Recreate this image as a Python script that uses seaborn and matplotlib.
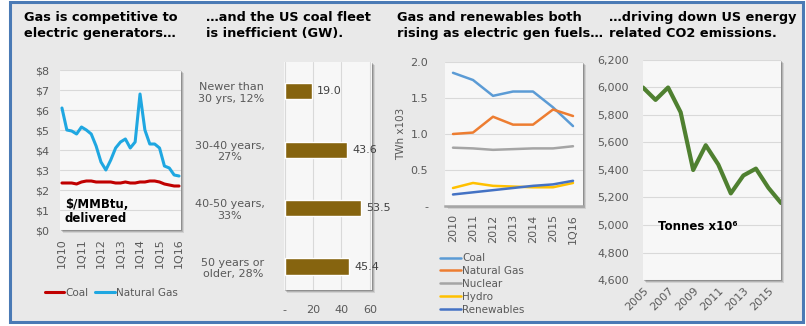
import matplotlib
matplotlib.use("Agg")
import matplotlib.pyplot as plt
from matplotlib.patches import Rectangle
from matplotlib.lines import Line2D
import numpy as np
import pandas as pd
import seaborn as sns

# ---- data -------------------------------------------------------------
# Delivered fuel prices to electric generators, $/MMBtu, 1Q10 .. 1Q16
quarter_ticks = ["1Q10", "1Q11", "1Q12", "1Q13", "1Q14", "1Q15", "1Q16"]
gas_price = [6.1, 5.0, 4.95, 4.8, 5.15, 5.0, 4.8, 4.2, 3.4, 3.0, 3.5, 4.1, 4.4,
             4.55, 4.1, 4.4, 6.8, 5.0, 4.3, 4.3, 4.1, 3.2, 3.1, 2.75, 2.7]
coal_price = [2.35, 2.35, 2.35, 2.3, 2.4, 2.45, 2.45, 2.4, 2.4, 2.4, 2.4, 2.35, 2.35,
              2.4, 2.35, 2.35, 2.4, 2.4, 2.45, 2.45, 2.4, 2.3, 2.25, 2.2, 2.2]

# US coal fleet capacity by plant age, GW
age_groups = ["Newer than\n30 yrs, 12%", "30-40 years,\n27%",
              "40-50 years,\n33%", "50 years or\nolder, 28%"]
capacity_gw = [19.0, 43.6, 53.5, 45.4]

# Electric generation by fuel, TWh x 10^3
gen_periods = ["2010", "2011", "2012", "2013", "2014", "2015", "1Q16"]
coal_gen = [1.85, 1.75, 1.53, 1.59, 1.59, 1.37, 1.11]
gas_gen = [1.00, 1.02, 1.24, 1.13, 1.13, 1.34, 1.25]
nuclear_gen = [0.81, 0.80, 0.78, 0.79, 0.80, 0.80, 0.83]
hydro_gen = [0.25, 0.32, 0.28, 0.27, 0.26, 0.26, 0.32]
renew_gen = [0.16, 0.19, 0.22, 0.25, 0.28, 0.30, 0.35]
fuel_names = ["Coal", "Natural Gas", "Nuclear", "Hydro", "Renewables"]

# Energy-related CO2 emissions, tonnes x 10^6
co2_years = list(range(2005, 2017))
co2_tonnes = [6000, 5910, 6000, 5820, 5400, 5580, 5440, 5230, 5360, 5410, 5270, 5160]

# ---- styling ----------------------------------------------------------
sns.set_style("white")
plt.rcParams["font.family"] = ["DejaVu Sans"]
TICK = "#595959"
GRID = "#d9d9d9"
PANEL_BG = "#f7f7f7"

W, H = 806, 326
fig = plt.figure(figsize=(W / 100, H / 100), dpi=100)
fig.patch.set_facecolor("white")


def rect(x0, y0, x1, y1):
    return [x0 / W, 1 - y1 / H, (x1 - x0) / W, (y1 - y0) / H]


def panel(x0, y0, x1, y1):
    # soft drop shadow behind each plotting area
    for i, a in enumerate([0.10, 0.14, 0.20]):
        off = 3 - i
        fig.patches.append(Rectangle(((x0 + off) / W, 1 - (y1 + off) / H),
                                     (x1 - x0) / W, (y1 - y0) / H,
                                     transform=fig.transFigure, color="black",
                                     alpha=a, lw=0, zorder=-1))
    ax = fig.add_axes(rect(x0, y0, x1, y1))
    ax.set_facecolor(PANEL_BG)
    for s in ax.spines.values():
        s.set_visible(False)
    ax.tick_params(colors=TICK, labelsize=7.5, length=0)
    return ax


# outer frame
fig.patches.append(Rectangle((9.5 / W, 1 - 321.5 / H), 793.5 / W, 319.5 / H,
                             transform=fig.transFigure, facecolor="#e9e9e9",
                             edgecolor="#4a7ab5", lw=2.2, zorder=-2))

title_kw = dict(fontsize=9.3, fontweight="bold", color="black", va="top",
                ha="left", linespacing=1.3)
fig.text(24 / W, 1 - 11 / H, "Gas is competitive to\nelectric generators\u2026", **title_kw)
fig.text(206 / W, 1 - 11 / H, "\u2026and the US coal fleet\nis inefficient (GW).", **title_kw)
fig.text(397 / W, 1 - 11 / H, "Gas and renewables both\nrising as electric gen fuels\u2026", **title_kw)
fig.text(609 / W, 1 - 11 / H, "\u2026driving down US energy\nrelated CO2 emissions.", **title_kw)

# ---- panel 1: fuel prices ---------------------------------------------
ax1 = panel(60, 70, 181, 230)
qidx = np.arange(len(gas_price))
df1 = pd.DataFrame({"q": np.concatenate([qidx, qidx]),
                    "price": coal_price + gas_price,
                    "fuel": ["Coal"] * len(qidx) + ["Natural Gas"] * len(qidx)})
sns.lineplot(data=df1, x="q", y="price", hue="fuel",
             palette={"Coal": "#c00000", "Natural Gas": "#1fa7e1"},
             linewidth=2.2, ax=ax1, legend=False)
ax1.set_xlim(-0.4, 24.4)
ax1.set_ylim(0, 8)
ax1.set_yticks(range(0, 9))
ax1.set_yticklabels([f"${v}" for v in range(0, 9)], fontsize=8)
ax1.set_xticks(range(0, 25, 4))
ax1.set_xticklabels(quarter_ticks, rotation=90, fontsize=8)
ax1.tick_params(axis="y", pad=8)
ax1.tick_params(axis="x", pad=6)
ax1.yaxis.grid(True, color=GRID, lw=0.8)
ax1.set_xlabel("")
ax1.set_ylabel("")
ax1.text(0.04, 0.03, "$/MMBtu,\ndelivered", transform=ax1.transAxes,
         fontsize=8.5, fontweight="bold", color="black", ha="left", va="bottom",
         linespacing=1.15)
fig.legend(handles=[Line2D([], [], color="#c00000", lw=2.2),
                    Line2D([], [], color="#1fa7e1", lw=2.2)],
           labels=["Coal", "Natural Gas"], ncol=2, frameon=False,
           loc="center", bbox_to_anchor=(111 / W, 1 - 293 / H),
           fontsize=7.5, labelcolor=TICK, handlelength=1.9, handletextpad=0.1,
           columnspacing=0.6)

# ---- panel 2: coal fleet age ------------------------------------------
ax2 = panel(284, 62, 372, 290)
sns.barplot(x=capacity_gw, y=age_groups, orient="h", color="#86640f",
            width=0.28, saturation=1, ax=ax2)
ax2.set_xlim(-0.5, 61.5)
ax2.set_ylim(3.4, -0.5)
ax2.set_xticks([0, 20, 40, 60])
ax2.set_xticklabels(["-", "20", "40", "60"], fontsize=8)
ax2.tick_params(axis="x", pad=11)
ax2.tick_params(axis="y", pad=14)
for lab in ax2.get_yticklabels():
    lab.set_multialignment("center")
    lab.set_fontsize(8)
ax2.xaxis.grid(True, color=GRID, lw=0.8)
for i, v in enumerate(capacity_gw):
    ax2.annotate(f"{v:.1f}", (v, i), xytext=(4, 0), textcoords="offset points",
                 va="center", ha="left", fontsize=8, color="#404040")

# ---- panel 3: generation by fuel --------------------------------------
ax3 = panel(445, 62, 583, 206)
pidx = np.arange(len(gen_periods))
gen_series = [coal_gen, gas_gen, nuclear_gen, hydro_gen, renew_gen]
fuel_colors = ["#5b9bd5", "#ed7d31", "#a5a5a5", "#ffc000", "#4472c4"]
df3 = pd.DataFrame({"p": np.tile(pidx, len(fuel_names)),
                    "twh": np.concatenate(gen_series),
                    "fuel": np.repeat(fuel_names, len(pidx))})
sns.lineplot(data=df3, x="p", y="twh", hue="fuel", hue_order=fuel_names,
             palette=dict(zip(fuel_names, fuel_colors)), linewidth=1.8,
             ax=ax3, legend=False)
ax3.set_xlim(-0.4, 6.5)
ax3.set_ylim(0, 2.0)
ax3.set_yticks([0, 0.5, 1.0, 1.5, 2.0])
ax3.set_yticklabels(["-", "0.5", "1.0", "1.5", "2.0"], fontsize=8)
ax3.set_xticks(pidx)
ax3.set_xticklabels(gen_periods, rotation=90, fontsize=8)
ax3.tick_params(axis="y", pad=12)
ax3.tick_params(axis="x", pad=6)
ax3.yaxis.grid(True, color=GRID, lw=0.8)
ax3.spines["bottom"].set_visible(True)
ax3.spines["bottom"].set_color("#a6a6a6")
ax3.spines["bottom"].set_linewidth(1.8)
ax3.set_xlabel("")
ax3.set_ylabel("TWh x103", fontsize=7.5, color=TICK, labelpad=3)
fig.legend(handles=[Line2D([], [], color=c, lw=1.8) for c in fuel_colors],
           labels=fuel_names, ncol=1, frameon=False, loc="upper left",
           bbox_to_anchor=(436 / W, 1 - 249 / H), fontsize=7.5,
           labelcolor=TICK, handlelength=2.0, handletextpad=0.1,
           labelspacing=0.28, borderaxespad=0)

# ---- panel 4: CO2 emissions -------------------------------------------
ax4 = panel(643, 60, 781, 280)
sns.lineplot(x=co2_years, y=co2_tonnes, color="#4f8030", linewidth=3.0, ax=ax4)
ax4.set_xlim(2005, 2016)
ax4.set_ylim(4600, 6200)
ax4.set_yticks(range(4600, 6201, 200))
ax4.set_yticklabels([f"{v:,}" for v in range(4600, 6201, 200)], fontsize=8)
ax4.set_xticks(range(2005, 2016, 2))
ax4.set_xticklabels([str(y) for y in range(2005, 2016, 2)], rotation=45,
                    ha="right", rotation_mode="anchor", fontsize=8)
ax4.tick_params(axis="y", pad=10)
ax4.tick_params(axis="x", pad=4)
ax4.yaxis.grid(True, color=GRID, lw=0.8)
ax4.set_xlabel("")
ax4.set_ylabel("")
ax4.text(0.11, 0.245, "Tonnes x10\u2076", transform=ax4.transAxes, fontsize=8.5,
         fontweight="bold", color="black", ha="left", va="center")

fig.savefig("out.png", dpi=100, facecolor=fig.get_facecolor())
